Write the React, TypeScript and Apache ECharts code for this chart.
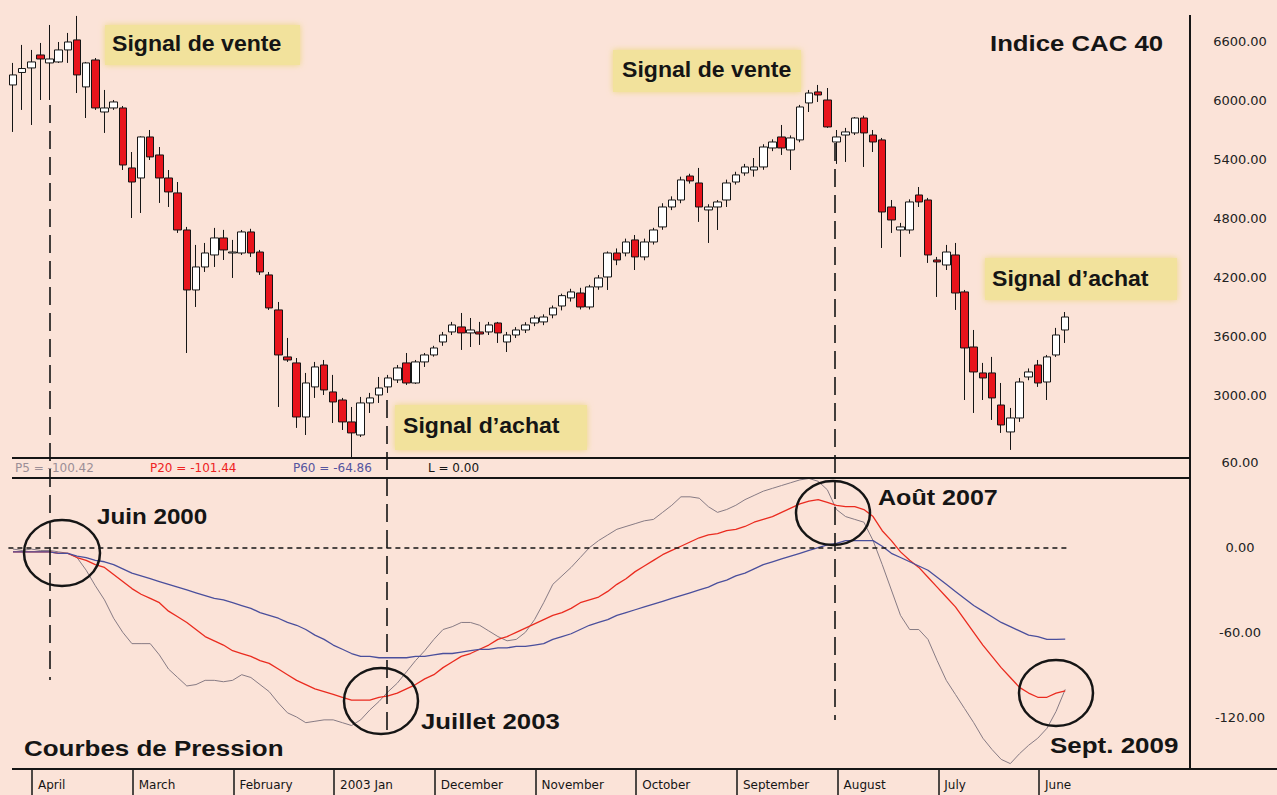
import React, { useEffect, useRef } from "react";
import * as echarts from "echarts";

// Monthly candles, Feb 2000 .. Sep 2009
const months: string[] = (() => {
  const out: string[] = [];
  for (let k = 0; k < 116; k++) {
    const m = 1 + k;
    const y = 2000 + Math.floor(m / 12);
    const mm = (m % 12) + 1;
    out.push(`${y}-${String(mm).padStart(2, "0")}`);
  }
  return out;
})();

// [open, close, low, high]
const cac40Monthly: number[][] = [
  [6163, 6265, 5685, 6387], [6290, 6330, 5909, 6570], [6336, 6397, 5756, 6519], [6468, 6427, 6010, 6590],
  [6387, 6427, 6010, 6773], [6397, 6519, 6387, 6600], [6519, 6600, 6387, 6692], [6621, 6265, 6081, 6865],
  [6143, 6387, 5827, 6397], [6417, 5929, 5909, 6437], [5888, 5929, 5675, 6112], [5929, 5990, 5909, 6010],
  [5929, 5349, 5298, 5949], [5319, 5176, 4810, 5481], [5217, 5634, 4861, 5640], [5634, 5431, 5400, 5705],
  [5451, 5217, 4963, 5532], [5217, 5075, 4922, 5298], [5065, 4688, 4658, 5176], [4688, 4078, 3437, 4719],
  [4078, 4312, 3905, 4536], [4312, 4454, 4261, 4556], [4434, 4607, 4312, 4709], [4607, 4485, 4383, 4689],
  [4454, 4464, 4200, 4587], [4454, 4668, 4434, 4688], [4668, 4454, 4414, 4700], [4464, 4261, 4231, 4485],
  [4231, 3895, 3875, 4261], [3875, 3417, 2888, 3956], [3397, 3366, 3346, 3590], [3336, 2786, 2675, 3386],
  [2786, 3132, 2603, 3234], [3092, 3295, 2980, 3346], [3315, 3061, 3010, 3366], [3041, 2939, 2725, 3214],
  [2959, 2736, 2654, 2980], [2736, 2624, 2369, 2888], [2603, 2929, 2583, 2990], [2929, 2980, 2827, 3031],
  [3010, 3081, 2929, 3193], [3092, 3183, 3031, 3214], [3163, 3285, 3132, 3315], [3336, 3132, 3112, 3437],
  [3132, 3346, 3122, 3366], [3346, 3417, 3295, 3437], [3417, 3488, 3400, 3510], [3549, 3620, 3510, 3651],
  [3651, 3722, 3620, 3753], [3702, 3641, 3468, 3844], [3641, 3671, 3498, 3793], [3651, 3630, 3519, 3753],
  [3651, 3722, 3620, 3753], [3742, 3641, 3539, 3753], [3549, 3620, 3447, 3651], [3620, 3671, 3590, 3700],
  [3671, 3722, 3640, 3750], [3742, 3793, 3710, 3820], [3753, 3803, 3720, 3830], [3824, 3895, 3790, 3920],
  [3915, 4020, 3870, 4040], [3997, 4058, 3960, 4090], [4047, 3905, 3880, 4100], [3905, 4109, 3880, 4130],
  [4109, 4200, 4080, 4230], [4210, 4454, 4078, 4470], [4454, 4383, 4330, 4500], [4454, 4566, 4420, 4600],
  [4587, 4414, 4281, 4637], [4414, 4566, 4380, 4600], [4566, 4688, 4540, 4710], [4719, 4922, 4690, 4960],
  [4922, 4993, 4890, 5030], [4993, 5197, 4960, 5230], [5237, 5187, 5160, 5260], [5166, 4922, 4770, 5319],
  [4892, 4922, 4556, 4950], [4922, 4973, 4688, 4993], [4993, 5166, 4922, 5200], [5176, 5248, 5150, 5280],
  [5268, 5329, 5240, 5360], [5298, 5329, 5230, 5420], [5329, 5532, 5300, 5560], [5522, 5583, 5490, 5610],
  [5634, 5522, 5451, 5756], [5502, 5624, 5298, 5650], [5604, 5939, 5580, 5960], [5980, 6081, 5888, 6112],
  [6092, 6061, 5990, 6163], [6010, 5736, 5726, 6132], [5583, 5634, 5360, 5705], [5654, 5685, 5380, 5726],
  [5675, 5827, 5654, 5837], [5827, 5675, 5329, 5850], [5654, 5583, 5481, 5705], [5604, 4871, 4505, 5624],
  [4922, 4790, 4658, 4993], [4688, 4719, 4414, 4760], [4688, 4973, 4650, 5000], [5044, 4973, 4922, 5125],
  [4993, 4434, 4353, 5014], [4383, 4363, 4007, 4414], [4332, 4464, 4281, 4536], [4434, 4047, 3875, 4556],
  [4058, 3488, 2959, 4078], [3498, 3244, 2827, 3671], [3234, 3183, 2959, 3336], [3234, 2980, 2756, 3397],
  [2908, 2705, 2624, 3132], [2634, 2776, 2451, 2878], [2776, 3142, 2736, 3183], [3193, 3244, 3160, 3280],
  [3315, 3132, 3092, 3366], [3142, 3397, 2959, 3417], [3417, 3620, 3397, 3692], [3671, 3803, 3539, 3854],
];

const p5: number[] = [
  -1, -2, -1, -2, -2, -3, -4, -7, -16, -27,
  -37, -50, -60, -68, -68, -68, -76, -86, -92, -98,
  -97, -94, -94, -95, -94, -90, -92, -97, -102, -110,
  -117, -120, -124, -123, -122, -122, -124, -126, -122, -115,
  -109, -102, -96, -88, -80, -73, -65, -58, -56, -53,
  -53, -55, -59, -63, -66, -65, -60, -51, -39, -26,
  -20, -14, -7, 0, 5, 9, 13, 15, 17, 19,
  20, 25, 30, 36, 36, 35, 29, 25, 27, 30,
  34, 37, 40, 42, 44, 46, 48, 49, 47, 41,
  27, 22, 20, 18, 5, -12, -30, -48, -58, -58,
  -65, -80, -94, -104, -114, -124, -135, -143, -150, -153,
  -146, -140, -135, -128, -116, -100.42,
];

const p20: number[] = [
  -3, -3, -3, -3, -3, -4, -4, -7, -9, -12,
  -14, -19, -24, -29, -33, -36, -39, -45, -49, -53,
  -58, -63, -66, -69, -73, -75, -77, -80, -82, -86,
  -90, -94, -97, -100, -102, -104, -106, -108, -108, -108,
  -106, -105, -103, -100, -97, -93, -90, -85, -81, -77,
  -75, -72, -69, -65, -63, -60, -57, -54, -51, -48,
  -46, -43, -39, -37, -35, -31, -26, -22, -17, -13,
  -9, -5, -2, 1, 4, 7, 9, 10, 12, 13,
  15, 18, 20, 22, 25, 28, 31, 33, 34, 32,
  30, 29, 29, 27, 22, 12, 5, -3, -9, -14,
  -21, -28, -35, -42, -51, -60, -69, -77, -85, -92,
  -99, -103, -106, -106, -103, -101.44,
];

const p60: number[] = [
  -3, -3, -3, -3, -3, -4, -4, -6, -7, -9,
  -10, -12, -15, -18, -20, -22, -24, -26, -28, -30,
  -32, -34, -36, -37, -39, -41, -43, -46, -48, -50,
  -53, -55, -58, -62, -65, -69, -72, -75, -77, -77,
  -78, -78, -78, -78, -77, -77, -76, -75, -75, -74,
  -73, -72, -72, -71, -71, -70, -70, -69, -68, -65,
  -63, -61, -58, -55, -53, -51, -48, -46, -44, -42,
  -40, -38, -36, -34, -32, -30, -28, -25, -23, -20,
  -18, -15, -12, -10, -8, -6, -4, -2, 0, 2,
  3, 5, 5, 5, 5, 1, -4, -7, -10, -13,
  -16, -21, -26, -31, -36, -41, -45, -49, -53, -56,
  -59, -62, -63, -65, -65, -64.86,
];

const priceTicks = [6600, 6000, 5400, 4800, 4200, 3600, 3000];
const pressureTicks = [60, 0, -60, -120];
const bottomLabels = ["April", "March", "February", "2003 Jan", "December", "November", "October", "September", "August", "July", "June"];

const BG = "#fbe3d8";
const INK = "#151515";
const BOLD = '"Liberation Sans", Arial, Helvetica, sans-serif';
const SMALL = '"DejaVu Sans", Verdana, sans-serif';

function boldText(text: string, x: number, y: number, sx: number) {
  return {
    type: "text",
    x,
    y,
    scaleX: sx,
    z: 120,
    style: {
      text,
      fontSize: 22,
      fontWeight: "bold",
      fontFamily: BOLD,
      fill: INK,
      textAlign: "left",
      textVerticalAlign: "middle",
      align: "left",
      verticalAlign: "middle",
    },
  };
}

function smallText(text: string, x: number, y: number, color: string) {
  return {
    type: "text",
    x,
    y,
    z: 120,
    style: {
      text,
      fontSize: 12,
      fontFamily: SMALL,
      fill: color,
      textAlign: "left",
      textVerticalAlign: "middle",
      align: "left",
      verticalAlign: "middle",
    },
  };
}

function box(x: number, y: number, w: number, h: number) {
  return {
    type: "rect",
    z: 1,
    shape: { x, y, width: w, height: h },
    style: { fill: "#f2e29c", shadowBlur: 6, shadowColor: "rgba(235,215,120,0.9)" },
  };
}

function line(x1: number, y1: number, x2: number, y2: number, w: number, dash?: number[]) {
  return {
    type: "line",
    z: 110,
    shape: { x1, y1, x2, y2 },
    style: { stroke: INK, lineWidth: w, lineDash: dash || null },
  };
}

function ring(cx: number, cy: number, rx: number, ry: number) {
  return {
    type: "ellipse",
    z: 115,
    shape: { cx, cy, rx, ry },
    style: { fill: "none", stroke: INK, lineWidth: 2.5 },
  };
}

export default function App() {
  const ref = useRef<HTMLDivElement>(null);

  useEffect(() => {
    document.body.style.margin = "0";
    document.body.style.background = BG;
    const chart = echarts.init(ref.current as HTMLDivElement, null, { renderer: "svg" });

    const option: any = {
      animation: false,
      backgroundColor: BG,
      grid: [
        { left: 8.4, top: 0, width: 1061.4, height: 458 },
        { left: 8.4, top: 458, width: 1061.4, height: 310 },
        { left: 32, top: 768, width: 1107.7, height: 1 },
      ],
      xAxis: [
        { type: "category", gridIndex: 0, data: months, show: false, boundaryGap: true },
        { type: "category", gridIndex: 1, data: months, show: false, boundaryGap: true },
        {
          type: "category",
          gridIndex: 2,
          data: [...bottomLabels, ""],
          boundaryGap: false,
          axisLine: { show: false },
          axisTick: {
            show: true,
            length: 26,
            interval: (i: number) => i < bottomLabels.length,
            lineStyle: { color: INK, width: 1.5 },
          },
          axisLabel: {
            interval: 0,
            align: "left",
            margin: 10,
            padding: [0, 0, 0, 6],
            color: INK,
            fontFamily: SMALL,
            fontSize: 12,
          },
          splitLine: { show: false },
        },
      ],
      yAxis: [
        {
          type: "value",
          gridIndex: 0,
          position: "right",
          offset: 120.2,
          min: 2369,
          max: 7027,
          axisLine: { show: false },
          axisTick: { show: false },
          splitLine: { show: false },
          axisLabel: {
            customValues: priceTicks,
            formatter: (v: number) => v.toFixed(2),
            align: "center",
            margin: 50,
            color: "#222",
            fontFamily: SMALL,
            fontSize: 13,
          },
        },
        {
          type: "value",
          gridIndex: 1,
          position: "right",
          offset: 120.2,
          min: -156.1,
          max: 63.5,
          axisLine: { show: false },
          axisTick: { show: false },
          splitLine: { show: false },
          axisLabel: {
            customValues: pressureTicks,
            formatter: (v: number) => v.toFixed(2),
            align: "center",
            margin: 50,
            color: "#222",
            fontFamily: SMALL,
            fontSize: 13,
          },
        },
        { type: "value", gridIndex: 2, show: false },
      ],
      series: [
        {
          type: "candlestick",
          name: "CAC 40",
          xAxisIndex: 0,
          yAxisIndex: 0,
          data: cac40Monthly,
          barWidth: 8,
          itemStyle: {
            color: "#ffffff",
            color0: "#e8141c",
            borderColor: INK,
            borderColor0: INK,
            borderWidth: 1,
          },
        },
        {
          type: "line",
          name: "P5",
          xAxisIndex: 1,
          yAxisIndex: 1,
          data: p5,
          symbol: "none",
          lineStyle: { color: "#877b84", width: 1 },
        },
        {
          type: "line",
          name: "P20",
          xAxisIndex: 1,
          yAxisIndex: 1,
          data: p20,
          symbol: "none",
          lineStyle: { color: "#ea2b1f", width: 1.3 },
        },
        {
          type: "line",
          name: "P60",
          xAxisIndex: 1,
          yAxisIndex: 1,
          data: p60,
          symbol: "none",
          lineStyle: { color: "#4a4f9c", width: 1.3 },
          markLine: {
            silent: true,
            symbol: "none",
            label: { show: false },
            lineStyle: { color: INK, type: [5, 4], width: 1.6 },
            data: [{ yAxis: 0 }],
          },
        },
      ],
      graphic: [
        // signal boxes
        box(105, 25, 195, 40),
        box(613, 50, 188, 42),
        box(395, 405, 192, 45),
        box(985, 258, 192, 42),
        boldText("Signal de vente", 112, 44, 1.05),
        boldText("Signal de vente", 622, 70, 1.05),
        boldText("Signal d\u2019achat", 403, 426, 1.05),
        boldText("Signal d\u2019achat", 992, 279, 1.05),
        boldText("Indice CAC 40", 990, 43, 1.17),
        boldText("Juin 2000", 97, 516, 1.1),
        boldText("Juillet 2003", 421, 721, 1.17),
        boldText("Ao\u00fbt 2007", 878, 498, 1.14),
        boldText("Sept. 2009", 1050, 745, 1.18),
        boldText("Courbes de Pression", 24, 748, 1.18),
        // pressure legend band
        smallText("P5 = -100.42", 15, 468, "#9c8f97"),
        smallText("P20 = -101.44", 150, 468, "#ee2222"),
        smallText("P60 = -64.86", 293, 468, "#55559f"),
        smallText("L = 0.00", 428, 468, INK),
        // frame
        line(12, 458, 1190, 458, 2),
        line(12, 478, 1190, 478, 2),
        line(1190, 15, 1190, 769, 2),
        line(12, 769, 1277, 769, 2),
        // signal verticals
        line(50, 105, 50, 680, 1.6, [18, 8]),
        line(387, 400, 387, 735, 1.6, [18, 8]),
        line(835, 143, 835, 720, 1.6, [18, 8]),
        // circles
        ring(62, 553, 38, 33),
        ring(381, 701, 37, 33),
        ring(833, 513, 37, 32),
        ring(1056, 693, 37, 33),
      ],
    };

    chart.setOption(option);
    return () => chart.dispose();
  }, []);

  return <div ref={ref} style={{ width: 1277, height: 795 }} />;
}
